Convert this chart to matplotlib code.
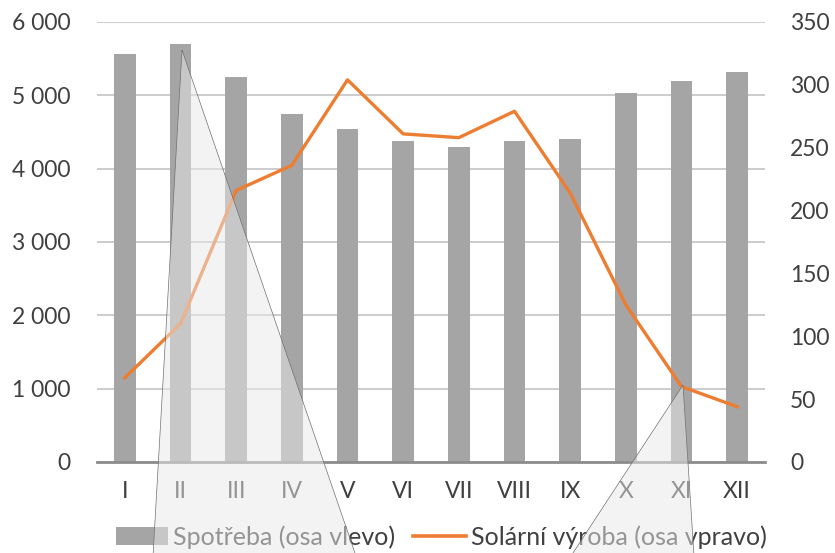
import matplotlib
matplotlib.use("Agg")
import matplotlib.pyplot as plt
from matplotlib.patches import Polygon, Patch
from matplotlib.lines import Line2D
import numpy as np

months = ["I", "II", "III", "IV", "V", "VI", "VII", "VIII", "IX", "X", "XI", "XII"]
spotreba = [5570, 5700, 5250, 4740, 4540, 4380, 4300, 4380, 4410, 5030, 5200, 5320]
solar = [67, 110, 216, 236, 304, 261, 258, 279, 214, 125, 60, 44]
left_ticks = [0, 1000, 2000, 3000, 4000, 5000, 6000]
right_ticks = [0, 50, 100, 150, 200, 250, 300, 350]

plt.rcParams['font.family'] = ['Lato', 'DejaVu Sans']
W, H = 835, 553
fig = plt.figure(figsize=(W / 100, H / 100), dpi=100)
ax = fig.add_axes([97 / W, 1 - 462 / H, (765 - 97) / W, (462 - 22) / H])
ax2 = ax.twinx()

txt = "#404040"
fs = 16.5
x = np.arange(len(months))
ax.bar(x, spotreba, width=0.39, color="#a5a5a5", zorder=2)
ax.set_xlim(-0.5, len(months) - 0.5)
ax.set_ylim(0, 6000)
ax.set_yticks(left_ticks)
ax.set_yticklabels([f"{v:,}".replace(",", " ") for v in left_ticks])
ax.set_xticks(x)
ax.set_xticklabels(months)
ax.grid(axis="y", color="#c8c8c8", lw=1.3, zorder=0)
ax.set_axisbelow(True)
for s in ["top", "left", "right"]:
    ax.spines[s].set_visible(False)
ax.spines["bottom"].set_color("#8c8c8c")
ax.spines["bottom"].set_linewidth(2.0)
ax.tick_params(axis="y", length=0, pad=19, labelsize=fs, labelcolor=txt)
ax.tick_params(axis="x", length=0, pad=14, labelsize=fs, labelcolor=txt)

ax2.plot(x, solar, color="#ed7d31", lw=2.4, zorder=3, solid_joinstyle="round")
ax2.set_ylim(0, 350)
ax2.set_yticks(right_ticks)
for s in ax2.spines.values():
    s.set_visible(False)
ax2.tick_params(axis="y", length=0, pad=18, labelsize=fs, labelcolor=txt)

handles = [Patch(facecolor="#a5a5a5", edgecolor="none"),
           Line2D([0], [0], color="#ed7d31", lw=2.6)]
fig.legend(handles, ["Spotřeba (osa vlevo)", "Solární výroba (osa vpravo)"],
           loc="center", bbox_to_anchor=(441 / W, 1 - 537 / H), ncol=2,
           frameon=False, fontsize=18, labelcolor=txt, handlelength=2.1,
           handletextpad=0.2, columnspacing=0.72, borderpad=0.1)

def px(pts):
    return [(a / W, 1 - b / H) for a, b in pts]

for tri in ([(182, 50), (153, 556), (356, 556)], [(683, 385), (571, 556), (694, 556)]):
    fig.add_artist(Polygon(px(tri), closed=True, transform=fig.transFigure,
                           facecolor="#e9e9e9", alpha=0.5, edgecolor="none", zorder=10))
    fig.add_artist(Polygon(px(tri), closed=True, transform=fig.transFigure,
                           facecolor="none", edgecolor="#707070", lw=0.5, zorder=11))

fig.savefig("out.png", dpi=100)
